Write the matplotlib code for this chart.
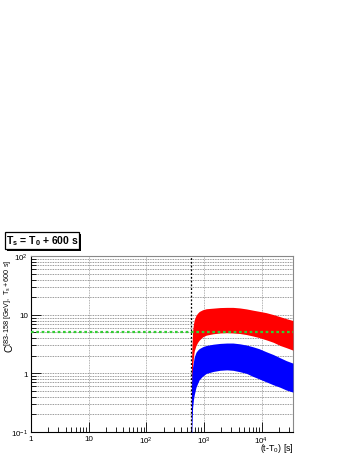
import numpy as np
import matplotlib
matplotlib.use("Agg")
import matplotlib.pyplot as plt
from matplotlib.ticker import FixedLocator, NullFormatter
from matplotlib.patches import Rectangle

plt.rcParams['font.family'] = ['Liberation Sans', 'DejaVu Sans']
plt.rcParams['mathtext.fontset'] = 'custom'
plt.rcParams['mathtext.rm'] = 'Liberation Sans'
plt.rcParams['mathtext.it'] = 'Liberation Sans'
plt.rcParams['mathtext.bf'] = 'Liberation Sans:bold'

# time since T0 [s]
t = [600, 610, 620, 637, 660, 680, 730, 780, 830, 950, 1100, 1450, 1900, 2500,
     3200, 4200, 5500, 7100, 9000, 12000, 16000, 21000, 27000, 35000]
# red band (upper / lower edge)
red_hi = [0.01, 1.5, 2.7, 5.3, 7.0, 8.2, 9.8, 10.7, 11.4, 12.2, 12.7, 13.0, 13.3, 13.4,
          13.4, 13.1, 12.6, 12.0, 11.5, 10.9, 10.1, 9.3, 8.6, 8.0]
red_lo = [0.01, 0.4, 0.7, 1.3, 1.9, 2.4, 3.0, 3.4, 3.7, 4.2, 4.5, 4.75, 4.9, 4.95,
          4.9, 4.8, 4.6, 4.35, 4.1, 3.75, 3.4, 3.0, 2.75, 2.5]
# blue band (upper / lower edge)
blue_hi = [0.01, 0.6, 1.0, 1.3, 1.6, 1.9, 2.3, 2.5, 2.65, 2.85, 3.0, 3.15, 3.25, 3.3,
           3.3, 3.2, 3.05, 2.85, 2.65, 2.35, 2.1, 1.85, 1.65, 1.5]
blue_lo = [0.01, 0.06, 0.12, 0.26, 0.36, 0.43, 0.58, 0.68, 0.78, 0.9, 1.0, 1.08, 1.13, 1.15,
           1.13, 1.07, 1.0, 0.89, 0.81, 0.72, 0.64, 0.58, 0.52, 0.48]

t_start = 600
threshold = 5

xticks = [1, 10, 100, 1000, 10000]
xticklabels = ['1', '10', '$10^{2}$', '$10^{3}$', '$10^{4}$']
yticks = [0.1, 1, 10, 100]
yticklabels = ['$10^{-1}$', '1', '10', '$10^{2}$']

fig = plt.figure(figsize=(3.52, 4.56), dpi=100)
ax = fig.add_axes([0.088, 0.0504, 0.744, 0.3855])

ax.fill_between(t, red_lo, red_hi, color='#ff0000', lw=0, zorder=3)
ax.fill_between(t, blue_lo, blue_hi, color='#0000ff', lw=0, zorder=4)
ax.axhline(threshold, color='#33cc33', ls=(0, (1.2, 1.2)), lw=1.6, zorder=5)
ax.axvline(t_start, color='black', ls=(0, (1.5, 1.5)), lw=0.9, zorder=6)

ax.set_xscale('log')
ax.set_yscale('log')
ax.set_xlim(1, 35000)
ax.set_ylim(0.1, 100)

ax.xaxis.set_major_locator(FixedLocator(xticks))
ax.set_xticklabels(xticklabels)
ax.yaxis.set_major_locator(FixedLocator(yticks))
ax.set_yticklabels(yticklabels)
minors_x = [m * 10 ** k for k in range(0, 5) for m in range(2, 10)]
minors_y = [m * 10 ** k for k in range(-1, 2) for m in range(2, 10)]
ax.xaxis.set_minor_locator(FixedLocator(minors_x))
ax.yaxis.set_minor_locator(FixedLocator(minors_y))
ax.xaxis.set_minor_formatter(NullFormatter())
ax.yaxis.set_minor_formatter(NullFormatter())

ax.tick_params(which='both', direction='in', top=False, right=False, labelsize=5.8)
ax.tick_params(axis='x', pad=2.0)
ax.tick_params(axis='y', pad=2)
ax.tick_params(which='major', length=7, width=0.6)
ax.tick_params(which='minor', length=3.5, width=0.6)

ax.grid(True, which='major', axis='x', color='#999999', ls=(0, (1, 1)), lw=0.6)
ax.grid(True, which='both', axis='y', color='#777777', ls=(0, (1, 1)), lw=0.6)
ax.set_axisbelow(True)

for s in ['left', 'bottom']:
    ax.spines[s].set_color('black')
    ax.spines[s].set_linewidth(0.8)
for s in ['top', 'right']:
    ax.spines[s].set_color('#888888')
    ax.spines[s].set_linewidth(0.8)

# axis titles placed ROOT-style
fig.text(294 / 352, 1 - 455 / 456, '(t-T$_{0}$) [s]', fontsize=6.4, ha='right', va='bottom')
fig.text(9 / 352, 1 - 260 / 456, r'C$^{[83\text{-}158\ [GeV],\ T_{s}+600\ s]}$',
         fontsize=7.5, rotation=90, ha='center', va='top')

# title box with shadow
fig.patches.append(Rectangle((7 / 352, 1 - 252 / 456), 74 / 352, 17 / 456,
                             transform=fig.transFigure, fc='black', ec='black', lw=0))
fig.patches.append(Rectangle((5 / 352, 1 - 250 / 456), 74 / 352, 17 / 456,
                             transform=fig.transFigure, fc='white', ec='black', lw=0.9))
fig.text(42 / 352, 1 - 241.5 / 456, r'$\mathbf{T_{s}}$ = $\mathbf{T_{0}}$ + 600 s',
         fontsize=7.5, fontweight='bold', ha='center', va='center')

fig.savefig('out.png', dpi=100)
